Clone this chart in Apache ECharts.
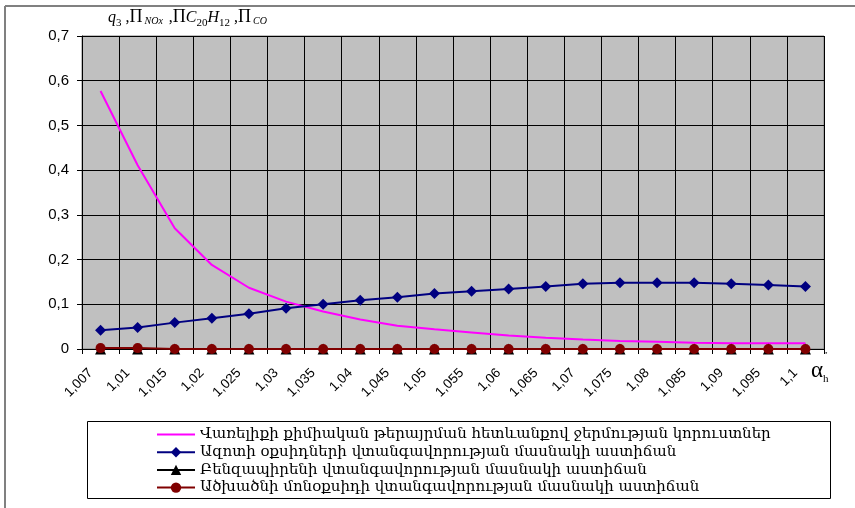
<!DOCTYPE html>
<html>
<head>
<meta charset="utf-8">
<script src="https://cdn.jsdelivr.net/npm/echarts@6/dist/echarts.min.js"></script>
<style>
  html, body { margin: 0; padding: 0; background: #fff; }
  #chart { width: 855px; height: 508px; }
</style>
</head>
<body>
<div id="chart"></div>
<script>
// Excess air ratio values on the category axis
const categories = ['1,007', '1,01', '1,015', '1,02', '1,025', '1,03', '1,035', '1,04', '1,045', '1,05',
  '1,055', '1,06', '1,065', '1,07', '1,075', '1,08', '1,085', '1,09', '1,095', '1,1'];

// Heat loss from incomplete chemical combustion, q3
const heatLoss = [0.577, 0.411, 0.270, 0.188, 0.137, 0.106, 0.084, 0.066, 0.052, 0.044,
  0.037, 0.030, 0.025, 0.021, 0.018, 0.016, 0.014, 0.013, 0.013, 0.013];
// Nitrogen oxides hazard level
const noxHazard = [0.042, 0.048, 0.059, 0.069, 0.079, 0.091, 0.100, 0.109, 0.116, 0.124,
  0.129, 0.134, 0.140, 0.146, 0.148, 0.148, 0.148, 0.146, 0.143, 0.140];
// Benzo(a)pyrene hazard level
const bapHazard = [0, 0, 0, 0, 0, 0, 0, 0, 0, 0, 0, 0, 0, 0, 0, 0, 0, 0, 0, 0];
// Carbon monoxide hazard level
const coHazard = [0.002, 0.002, 0, 0, 0, 0, 0, 0, 0, 0, 0, 0, 0, 0, 0, 0, 0, 0, 0, 0];

const yTicks = { min: 0, max: 0.7, interval: 0.1 };

const seriesNames = [
  'Վառելիքի քիմիական թերայրման հետևանքով ջերմության կորուստներ',
  'Ազոտի օքսիդների վտանգավորության մասնակի աստիճան',
  'Բենզապիրենի վտանգավորության մասնակի աստիճան',
  'Ածխածնի մոնօքսիդի վտանգավորության մասնակի աստիճան'
];

const chart = echarts.init(document.getElementById('chart'), null, { renderer: 'canvas' });
const axisFont = 'Liberation Sans, Arial, sans-serif';
const armFont = 'DejaVu Serif, DejaVu Sans, serif';
const mathFont = 'Liberation Serif, Times New Roman, serif';

chart.setOption({
  backgroundColor: '#ffffff',
  animation: false,
  grid: {
    left: 82, right: 31, top: 36, bottom: 159,
    show: true, backgroundColor: '#C0C0C0', borderColor: '#808080', borderWidth: 1
  },
  legend: {
    orient: 'vertical',
    left: 151, top: 422,
    itemWidth: 38, itemHeight: 13, itemGap: 2.7,
    textStyle: { fontFamily: armFont, fontSize: 15, color: '#000', lineHeight: 15 },
    data: [
      // plain line sample for the series drawn without markers
      { name: seriesNames[0], icon: 'path://M0,0H38V2H0Z' },
      seriesNames[1], seriesNames[2], seriesNames[3]
    ]
  },
  xAxis: {
    type: 'category',
    data: categories,
    boundaryGap: true,
    axisLine: { lineStyle: { color: '#000', width: 1 } },
    axisTick: { show: true, length: 5, interval: 0, lineStyle: { color: '#000' } },
    axisLabel: {
      interval: 0, rotate: 45, margin: 12, padding: [0, 14, 0, 0],
      fontFamily: axisFont, fontSize: 13.5, color: '#000'
    },
    splitLine: { show: true, interval: 0, lineStyle: { color: '#000', width: 1 } }
  },
  yAxis: {
    type: 'value',
    min: yTicks.min, max: yTicks.max, interval: yTicks.interval,
    axisLine: { show: true, lineStyle: { color: '#000', width: 1 } },
    axisTick: { show: true, length: 5, lineStyle: { color: '#000' } },
    axisLabel: {
      margin: 13, fontFamily: axisFont, fontSize: 15, color: '#000',
      formatter: v => String(Math.round(v * 10) / 10).replace('.', ',')
    },
    splitLine: { show: true, lineStyle: { color: '#000', width: 1 } }
  },
  series: [
    {
      name: seriesNames[0], type: 'line', data: heatLoss,
      symbol: 'none', lineStyle: { color: '#FF00FF', width: 2 }, itemStyle: { color: '#FF00FF' }
    },
    {
      name: seriesNames[1], type: 'line', data: noxHazard,
      symbol: 'diamond', symbolSize: 11,
      lineStyle: { color: '#000080', width: 2 }, itemStyle: { color: '#000080' }
    },
    {
      name: seriesNames[2], type: 'line', data: bapHazard,
      symbol: 'triangle', symbolSize: 11,
      lineStyle: { color: '#000', width: 1.5 }, itemStyle: { color: '#000' }
    },
    {
      name: seriesNames[3], type: 'line', data: coHazard,
      symbol: 'circle', symbolSize: 10,
      lineStyle: { color: '#800000', width: 2 }, itemStyle: { color: '#800000' }
    }
  ],
  graphic: [
    // outer frame edges
    { type: 'line', shape: { x1: 5, y1: 6, x2: 855, y2: 6 }, style: { stroke: '#808080', lineWidth: 2 } },
    { type: 'line', shape: { x1: 5, y1: 6, x2: 5, y2: 508 }, style: { stroke: '#808080', lineWidth: 2 } },
    // legend box
    { type: 'rect', shape: { x: 87.5, y: 421.5, width: 743, height: 77 },
      style: { fill: 'none', stroke: '#000', lineWidth: 1 }, z: 0 },
    // value axis title
    {
      type: 'text', left: 108, top: 8,
      style: {
        text: '{it|q}{sub|3}{n| ,}{pi|Π}{sm|NOx}{n| ,}{pi|Π}{it|C}{sub|20}{it|H}{sub|12}{n| ,}{pi|Π}{sm|CO}',
        rich: {
          it: { fontFamily: mathFont, fontStyle: 'italic', fontSize: 16, verticalAlign: 'bottom' },
          sub: { fontFamily: mathFont, fontSize: 11, verticalAlign: 'bottom', padding: [0, 0, -3, 0] },
          n: { fontFamily: mathFont, fontSize: 16, verticalAlign: 'bottom' },
          pi: { fontFamily: mathFont, fontSize: 18, verticalAlign: 'bottom' },
          sm: { fontFamily: mathFont, fontStyle: 'italic', fontSize: 10, verticalAlign: 'bottom', padding: [0, 2, 0, 2] }
        },
        fill: '#000'
      }
    },
    // category axis title
    {
      type: 'text', left: 811, top: 359,
      style: {
        text: '{a|α}{h|h}',
        rich: {
          a: { fontFamily: mathFont, fontSize: 23, verticalAlign: 'bottom' },
          h: { fontFamily: mathFont, fontSize: 11, verticalAlign: 'bottom', padding: [0, 0, -3, 0] }
        },
        fill: '#000'
      }
    },
    { type: 'text', left: 824, top: 351, style: { text: '"', fontFamily: mathFont, fontSize: 9, fill: '#000' } }
  ]
});
</script>
</body>
</html>
